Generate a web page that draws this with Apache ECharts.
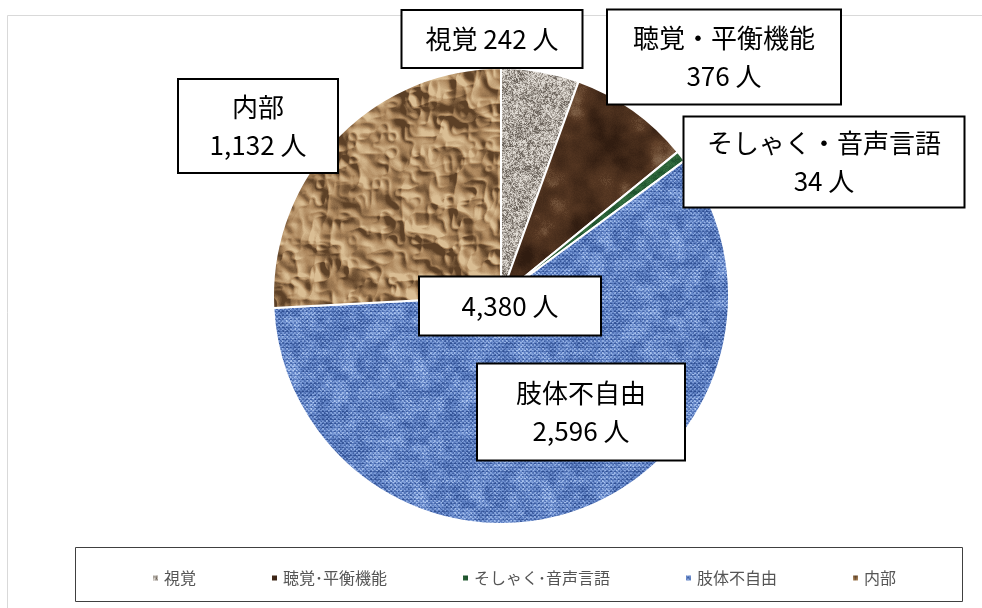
<!DOCTYPE html>
<html>
<head>
<meta charset="utf-8">
<script src="https://cdn.jsdelivr.net/npm/echarts@6/dist/echarts.min.js"></script>
<style>
html,body{margin:0;padding:0;background:#fff;}
#chart{width:982px;height:608px;}
</style>
</head>
<body>
<div id="chart"></div>
<script>
// ---- data ----
const categories = ['視覚', '聴覚・平衡機能', 'そしゃく・音声言語', '肢体不自由', '内部'];
const values = [242, 376, 34, 2596, 1132];
const unit = '人';

// ---- layout / style (not data) ----
const FONT = '"Noto Sans CJK JP", "Noto Sans CJK SC", sans-serif';
// label box centre x, centre y, outer width, outer height, one-line flag
const labelBoxes = [
  [492, 39, 181, 58, true],
  [724, 57, 234, 95, false],
  [824, 162, 281, 91, false],
  [581, 412, 208, 97, false],
  [258, 126, 160, 94, false]
];
const totalBox = [510, 306, 182, 59];

// ---- procedural textures (deterministic) ----
function hash2(x, y, s) {
  let h = (Math.imul(x, 374761393) + Math.imul(y, 668265263) + Math.imul(s, 982451653)) | 0;
  h = Math.imul(h ^ (h >>> 13), 1274126177);
  h ^= h >>> 16;
  return (h >>> 0) / 4294967296;
}
function vnoise(x, y, cell, size, s) {
  const n = size / cell;
  const gx = x / cell, gy = y / cell;
  const ix = Math.floor(gx), iy = Math.floor(gy);
  let fx = gx - ix, fy = gy - iy;
  fx = fx * fx * (3 - 2 * fx); fy = fy * fy * (3 - 2 * fy);
  const x0 = ((ix % n) + n) % n, y0 = ((iy % n) + n) % n;
  const x1 = (x0 + 1) % n, y1 = (y0 + 1) % n;
  const a = hash2(x0, y0, s), b = hash2(x1, y0, s), c = hash2(x0, y1, s), d = hash2(x1, y1, s);
  return (a * (1 - fx) + b * fx) * (1 - fy) + (c * (1 - fx) + d * fx) * fy;
}
function mix(c1, c2, t) {
  t = Math.max(0, Math.min(1, t));
  return [c1[0] + (c2[0] - c1[0]) * t, c1[1] + (c2[1] - c1[1]) * t, c1[2] + (c2[2] - c1[2]) * t];
}
function ramp3(a, b, c, t) {
  return t < 0.5 ? mix(a, b, t * 2) : mix(b, c, (t - 0.5) * 2);
}
function makeTex(size, fn) {
  const c = document.createElement('canvas');
  c.width = c.height = size;
  const ctx = c.getContext('2d');
  const img = ctx.createImageData(size, size);
  for (let y = 0; y < size; y++) {
    for (let x = 0; x < size; x++) {
      const col = fn(x, y, size);
      const i = (y * size + x) * 4;
      img.data[i] = col[0]; img.data[i + 1] = col[1]; img.data[i + 2] = col[2]; img.data[i + 3] = 255;
    }
  }
  ctx.putImageData(img, 0, 0);
  return c;
}
// gray granite
const texGray = makeTex(128, (x, y, S) => {
  const v = 0.45 * hash2(x, y, 11) + 0.35 * vnoise(x, y, 2, S, 12) + 0.2 * vnoise(x, y, 8, S, 13);
  const t = (v - 0.5) * 2.0 + 0.55;
  return ramp3([104, 96, 88], [172, 165, 157], [226, 221, 214], t);
});
// dark brown marble
const texBrown = makeTex(256, (x, y, S) => {
  const v = 0.45 * vnoise(x, y, 32, S, 21) + 0.3 * vnoise(x, y, 16, S, 22) + 0.17 * vnoise(x, y, 8, S, 23) + 0.08 * hash2(x, y, 24);
  let c = mix([48, 28, 16], [98, 64, 40], (v - 0.25) * 2.0);
  const w = 0.6 * vnoise(x, y, 16, S, 26) + 0.4 * vnoise(x, y, 4, S, 27);
  if (v > 0.62) c = mix(c, [140, 112, 86], (v - 0.62) * 3 * w * 2);
  return c;
});
// green
const texGreen = makeTex(64, (x, y, S) => {
  const v = 0.6 * vnoise(x, y, 4, S, 31) + 0.4 * hash2(x, y, 32);
  return mix([20, 70, 36], [60, 120, 70], v);
});
// blue woven fabric
const texBlue = makeTex(128, (x, y, S) => {
  const weave = ((x % 4) < 2) !== ((y % 4) < 2) ? 1 : 0;
  const thread = (y % 4 === 3) ? -0.25 : 0;
  const v = 0.3 * weave + 0.35 * hash2(x, y, 41) + 0.35 * vnoise(x, y, 8, S, 42) + thread;
  return ramp3([46, 78, 146], [104, 138, 204], [184, 208, 246], v);
});
// crumpled kraft paper
const texPaper = makeTex(256, (x, y, S) => {
  const h = (xx, yy) =>
    0.4 * Math.abs(2 * vnoise(xx, yy, 64, S, 51) - 1) +
    0.3 * Math.abs(2 * vnoise(xx, yy, 32, S, 52) - 1) +
    0.2 * Math.abs(2 * vnoise(xx, yy, 16, S, 53) - 1) +
    0.1 * Math.abs(2 * vnoise(xx, yy, 8, S, 56) - 1);
  const e = (h(x + 1, y - 1) - h(x - 1, y + 1)) * 8;
  const g = 0.06 * (hash2(x, y, 55) - 0.5);
  const t = 0.47 + e + g;
  return ramp3([92, 64, 38], [172, 134, 92], [218, 190, 148], t);
});
const textures = [texGray, texBrown, texGreen, texBlue, texPaper];

// ---- build ----
const fmt = v => v.toLocaleString('en-US');
const total = values.reduce((a, b) => a + b, 0);
const LH = 38;

const pieData = categories.map((name, i) => {
  const b = labelBoxes[i];
  const lines = b[4] ? 1 : 2;
  const lh = b[4] ? 30 : LH;
  const vpad = (b[3] - 2 - lines * lh) / 2;
  return {
    name: name,
    value: values[i],
    itemStyle: { color: { image: textures[i], repeat: 'repeat' } },
    label: { width: b[2] - 2, padding: [vpad, 0, vpad, 0], lineHeight: lh }
  };
});

const chart = echarts.init(document.getElementById('chart'), null, { renderer: 'canvas' });
chart.setOption({
  animation: false,
  backgroundColor: '#fff',
  legend: {
    data: categories,
    left: 146,
    top: 565,
    itemWidth: 7,
    itemHeight: 7,
    itemGap: 74,
    icon: 'rect',
    selectedMode: false,
    formatter: n => n.replace('・', '･'),
    textStyle: { color: '#555555', fontSize: 16, fontFamily: FONT }
  },
  series: [{
    type: 'pie',
    center: [501, 296],
    radius: 228,
    startAngle: 90,
    clockwise: true,
    avoidLabelOverlap: false,
    emphasis: { disabled: true },
    itemStyle: { borderColor: '#fff', borderWidth: 2 },
    label: {
      show: true,
      position: 'inside',
      color: '#000',
      fontSize: 26,
      fontFamily: FONT,
      align: 'center',
      backgroundColor: '#fff',
      borderColor: '#000',
      borderWidth: 2,
      formatter: p => labelBoxes[p.dataIndex][4]
        ? p.name + ' ' + fmt(p.value) + ' ' + unit
        : p.name + '\n' + fmt(p.value) + ' ' + unit
    },
    labelLine: { show: false },
    labelLayout: p => {
      const b = labelBoxes[p.dataIndex];
      return { x: b[0], y: b[1], align: 'center', verticalAlign: 'middle' };
    },
    data: pieData
  }],
  graphic: [
    { type: 'rect', z: -10, silent: true, shape: { x: 7.5, y: 15.5, width: 990, height: 600 }, style: { fill: 'none', stroke: '#d9d9d9', lineWidth: 1 } },
    { type: 'rect', z: -5, silent: true, shape: { x: 75.5, y: 547.5, width: 887, height: 54 }, style: { fill: 'none', stroke: '#404040', lineWidth: 1 } },
    {
      type: 'text', z: 100, silent: true, x: totalBox[0], y: totalBox[1],
      style: {
        text: fmt(total) + ' ' + unit,
        font: '26px ' + FONT,
        fill: '#000',
        align: 'center',
        verticalAlign: 'middle',
        width: totalBox[2] - 2,
        lineHeight: 30,
        padding: [(totalBox[3] - 32) / 2, 0, (totalBox[3] - 32) / 2, 0],
        backgroundColor: '#fff',
        borderColor: '#000',
        borderWidth: 2
      }
    }
  ]
});
</script>
</body>
</html>
